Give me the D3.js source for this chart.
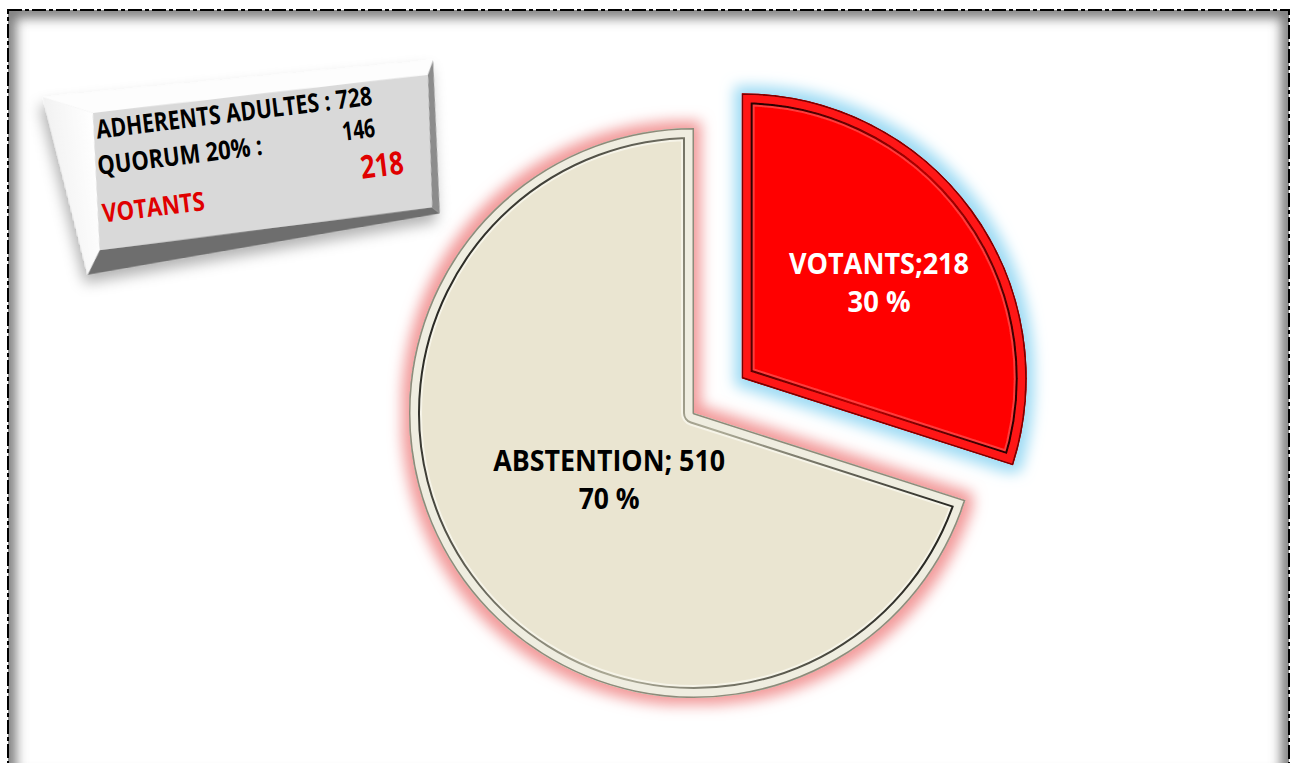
<!DOCTYPE html>
<html>
<head>
<meta charset="utf-8">
<script src="https://cdn.jsdelivr.net/npm/d3@7"></script>
<style>
    body { margin: 0; background: #fff; }
    svg { display: block; font-family: "Open Sans", Lato, sans-serif; }
</style>
</head>
<body>
<script>
// chart data
const categories = ["VOTANTS", "ABSTENTION"];
const values = [218, 510];
const labelNames = ["VOTANTS;218", "ABSTENTION; 510"];
const adherents = 728;
const quorum = 146;
const votants = 218;

const width = 1296, height = 763;
const margin = {top: 10, right: 7, bottom: 0, left: 8};

const center = {x: 694, y: 413};
const radius = 285;
const explode = [59, 0];
const labelRadius = [170, 105];
const labelWidths = [[180, 63], [232, 61]];
const fills = ["#ff0000", "#eae5d1"];
const glows = ["#9edbf4", "#f29a9a"];
// bevel bands, from widest to narrowest (drawn clipped to slice)
const bevels = [
    [{w: 26, c: "#ff3a3a"}, {w: 22, c: "url(#groove0)"}, {w: 18, c: "#ff1818"}, {w: 3, c: "#7a0000"}],
    [{w: 26, c: "#f6f4e8"}, {w: 22, c: "url(#groove1)"}, {w: 18, c: "#efede0"}, {w: 3, c: "#8d8b7a"}]
];
const grooves = [["#2a0000", "#b80000"], ["#1e1e1a", "#aeac98"]];
const textColors = ["#ffffff", "#000000"];

let svg = d3.select("body").append("svg")
    .attr("width", width)
    .attr("height", height);

let defs = svg.append("defs");

// glow filters
glows.forEach(function(c, i) {
    let f = defs.append("filter")
        .attr("id", "glow" + i)
        .attr("x", "-20%").attr("y", "-20%")
        .attr("width", "140%").attr("height", "140%");
    f.append("feMorphology").attr("in", "SourceAlpha").attr("operator", "dilate").attr("radius", 7).attr("result", "d");
    f.append("feGaussianBlur").attr("in", "d").attr("stdDeviation", 7).attr("result", "b");
    f.append("feFlood").attr("flood-color", c);
    f.append("feComposite").attr("in2", "b").attr("operator", "in").attr("result", "g");
    let m = f.append("feMerge");
    m.append("feMergeNode").attr("in", "g");
    m.append("feMergeNode").attr("in", "SourceGraphic");
});

grooves.forEach(function(c, i) {
    let gr = defs.append("linearGradient").attr("id", "groove" + i)
        .attr("x1", 0).attr("y1", 0.3).attr("x2", 1).attr("y2", 0.7);
    gr.append("stop").attr("offset", 0).attr("stop-color", c[0]);
    gr.append("stop").attr("offset", 0.55).attr("stop-color", c[1]);
    gr.append("stop").attr("offset", 1).attr("stop-color", c[0]);
});

let blur = defs.append("filter").attr("id", "frameBlur");
blur.append("feGaussianBlur").attr("stdDeviation", 6);

let shadow = defs.append("filter").attr("id", "boxShadow")
    .attr("x", "-30%").attr("y", "-30%").attr("width", "160%").attr("height", "160%");
shadow.append("feDropShadow").attr("dx", -4).attr("dy", 8).attr("stdDeviation", 7)
    .attr("flood-color", "#000").attr("flood-opacity", 0.3);

let leftGrad = defs.append("linearGradient").attr("id", "leftFace")
    .attr("x1", 0).attr("y1", 0).attr("x2", 1).attr("y2", 0);
leftGrad.append("stop").attr("offset", 0).attr("stop-color", "#f2f2f2");
leftGrad.append("stop").attr("offset", 1).attr("stop-color", "#ffffff");

// page frame with inner shadow
let frameW = width - margin.left - margin.right;
let frameH = height - margin.top + 20;
defs.append("clipPath").attr("id", "frameClip")
    .append("rect")
    .attr("x", margin.left).attr("y", margin.top)
    .attr("width", frameW).attr("height", frameH);

svg.append("rect")
    .attr("x", margin.left).attr("y", margin.top)
    .attr("width", frameW).attr("height", frameH)
    .attr("fill", "none")
    .attr("stroke", "#7a7a7a")
    .attr("stroke-width", 16)
    .attr("filter", "url(#frameBlur)")
    .attr("clip-path", "url(#frameClip)");

svg.append("rect")
    .attr("x", margin.left).attr("y", margin.top)
    .attr("width", frameW).attr("height", frameH)
    .attr("fill", "none")
    .attr("stroke", "#000")
    .attr("stroke-width", 2)
    .attr("stroke-dasharray", "14,3,4,3");

// pie
let pie = d3.pie().sort(null).value(d => d);
let arcs = pie(values);

let arc = d3.arc()
    .innerRadius(0)
    .outerRadius(radius);

let chart = svg.append("g")
    .attr("transform", "translate(" + center.x + "," + center.y + ")");

// draw abstention first so votants glow sits on top
let order = [1, 0];
order.forEach(function(i) {
    let a = arcs[i];
    let mid = (a.startAngle + a.endAngle) / 2;
    let dx = Math.sin(mid) * explode[i];
    let dy = -Math.cos(mid) * explode[i];

    defs.append("clipPath").attr("id", "sliceClip" + i)
        .append("path").attr("d", arc(a));

    let g = chart.append("g")
        .attr("transform", "translate(" + dx + "," + dy + ")");

    let body = g.append("g").attr("filter", "url(#glow" + i + ")");
    body.append("path")
        .attr("d", arc(a))
        .attr("fill", fills[i]);

    let bevel = body.append("g").attr("clip-path", "url(#sliceClip" + i + ")");
    bevels[i].forEach(function(b) {
        bevel.append("path")
            .attr("d", arc(a))
            .attr("fill", "none")
            .attr("stroke", b.c)
            .attr("stroke-width", b.w)
            .attr("stroke-linejoin", "round");
    });

    let lx = Math.sin(mid) * labelRadius[i];
    let ly = -Math.cos(mid) * labelRadius[i];
    let pct = Math.round(values[i] / d3.sum(values) * 100) + " %";

    g.append("text")
        .attr("x", lx - labelWidths[i][0] / 2).attr("y", ly - 4)
        .attr("font-size", 28)
        .attr("font-weight", "bold")
        .attr("fill", textColors[i])
        .attr("textLength", labelWidths[i][0]).attr("lengthAdjust", "spacingAndGlyphs")
        .text(labelNames[i]);
    g.append("text")
        .attr("x", lx - labelWidths[i][1] / 2).attr("y", ly + 34)
        .attr("font-size", 28)
        .attr("font-weight", "bold")
        .attr("fill", textColors[i])
        .attr("textLength", labelWidths[i][1]).attr("lengthAdjust", "spacingAndGlyphs")
        .text(pct);
});

// 3D info box (top left), local coordinates of its faces
const boxFront = [[0, 0], [337, 3], [325, 135], [-10, 137]];
const boxTop = [[-48, -22], [344, -11], [337, 3], [0, 0]];
const boxLeft = [[-48, -22], [0, 0], [-10, 137], [-25, 160]];
const boxBottom = [[-10, 137], [325, 135], [332, 142], [-25, 160]];
const boxRight = [[337, 3], [344, -11], [332, 142], [325, 135]];

let box = svg.append("g")
    .attr("transform", "translate(93,113) rotate(-7)");

let boxBody = box.append("g").attr("filter", "url(#boxShadow)");
let poly = d3.line();
boxBody.append("path").attr("d", poly(boxTop) + "Z").attr("fill", "#fdfdfd");
boxBody.append("path").attr("d", poly(boxLeft) + "Z").attr("fill", "url(#leftFace)");
boxBody.append("path").attr("d", poly(boxBottom) + "Z").attr("fill", "#6e6e6e");
boxBody.append("path").attr("d", poly(boxRight) + "Z").attr("fill", "#8c8c8c");
boxBody.append("path").attr("d", poly(boxFront) + "Z").attr("fill", "#d9d9d9");

box.append("text")
    .attr("x", 1).attr("y", 26)
    .attr("font-size", 26).attr("font-weight", "bold")
    .attr("textLength", 278).attr("lengthAdjust", "spacingAndGlyphs")
    .text("ADHERENTS ADULTES : " + adherents);
box.append("text")
    .attr("x", -2).attr("y", 62)
    .attr("font-size", 26).attr("font-weight", "bold")
    .attr("textLength", 166).attr("lengthAdjust", "spacingAndGlyphs")
    .text("QUORUM 20% :");
box.append("text")
    .attr("x", 245).attr("y", 58)
    .attr("font-size", 26).attr("font-weight", "bold")
    .attr("textLength", 33).attr("lengthAdjust", "spacingAndGlyphs")
    .text(quorum);
box.append("text")
    .attr("x", 259).attr("y", 98)
    .attr("font-size", 32).attr("font-weight", "bold")
    .attr("fill", "#e00000")
    .attr("textLength", 43).attr("lengthAdjust", "spacingAndGlyphs")
    .text(votants);
box.append("text")
    .attr("x", -3).attr("y", 110)
    .attr("font-size", 26).attr("font-weight", "bold")
    .attr("fill", "#e00000")
    .attr("textLength", 103).attr("lengthAdjust", "spacingAndGlyphs")
    .text(categories[0]);
</script>
</body>
</html>
